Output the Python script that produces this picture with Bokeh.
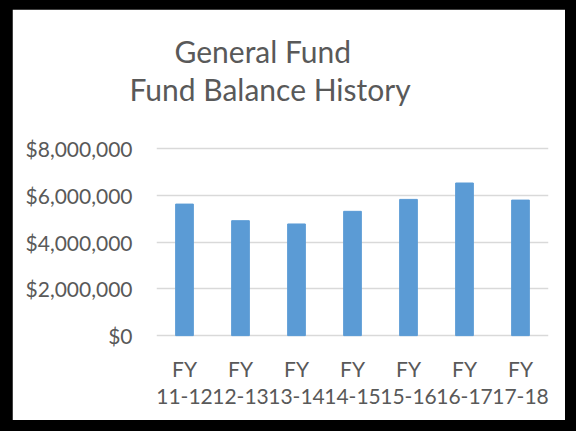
from bokeh.plotting import figure
from bokeh.models import FixedTicker, NumeralTickFormatter, Range1d, FactorRange, Title, ColumnDataSource, Spacer
from bokeh.layouts import column, row
from bokeh.embed import file_html
from bokeh.resources import INLINE

categories = ["FY\n11-12", "FY\n12-13", "FY\n13-14", "FY\n14-15", "FY\n15-16", "FY\n16-17", "FY\n17-18"]
balances = [5620000, 4910000, 4770000, 5310000, 5820000, 6520000, 5790000]
y_ticks = [0, 2000000, 4000000, 6000000, 8000000]

FONT = "Lato"
GREY = "#595959"

src = ColumnDataSource(dict(cat=categories, val=balances))

p = figure(width=553, height=411, x_range=FactorRange(*categories), y_range=Range1d(-80000, 8080000),
           output_backend="svg", toolbar_location=None, title="General Fund",
           min_border_left=144, min_border_right=17, min_border_top=137, min_border_bottom=83)
p.title.align = "left"
p.title.offset = 18
p.title.text_font = FONT
p.title.text_font_size = "30px"
p.title.text_font_style = "normal"
p.title.text_color = GREY
p.title.standoff = 0

spacer = Title(text=" ", text_font_size="1px", standoff=37)
p.add_layout(spacer, "above")
t2 = Title(text="Fund Balance History", align="left", offset=-27, text_font=FONT,
           text_font_size="30px", text_font_style="normal", text_color=GREY, standoff=0)
p.add_layout(t2, "above")

# horizontal gridlines at the y ticks
p.hspan(y=y_ticks, line_color="#d9d9d9", line_width=1.5)
p.vbar(x="cat", top="val", width=0.316, source=src, color="#5b9bd5")

p.outline_line_color = "white"
p.outline_line_width = 1.5
p.background_fill_color = "white"
p.border_fill_color = "white"

p.xgrid.visible = False
p.ygrid.visible = False

p.yaxis.ticker = FixedTicker(ticks=y_ticks)
p.yaxis.formatter = NumeralTickFormatter(format="$0,0")
p.yaxis.axis_line_color = None
p.yaxis.major_tick_line_color = None
p.yaxis.minor_tick_line_color = None
p.yaxis.major_label_standoff = 18

p.xaxis.axis_line_color = None
p.xaxis.major_tick_line_color = None
p.xaxis.minor_tick_line_color = None
p.xaxis.major_label_standoff = 12
p.xaxis.major_label_text_line_height = 1.1

for ax in (p.xaxis, p.yaxis):
    ax.major_label_text_font = FONT
    ax.major_label_text_font_size = "21px"
    ax.major_label_text_color = GREY

inner = row(Spacer(width=12, height=411), p, Spacer(width=11, height=411))
layout = column(Spacer(width=576, height=9), inner, Spacer(width=576, height=11),
                styles={"background-color": "black"})

open("out.html", "w").write(file_html(layout, INLINE))
